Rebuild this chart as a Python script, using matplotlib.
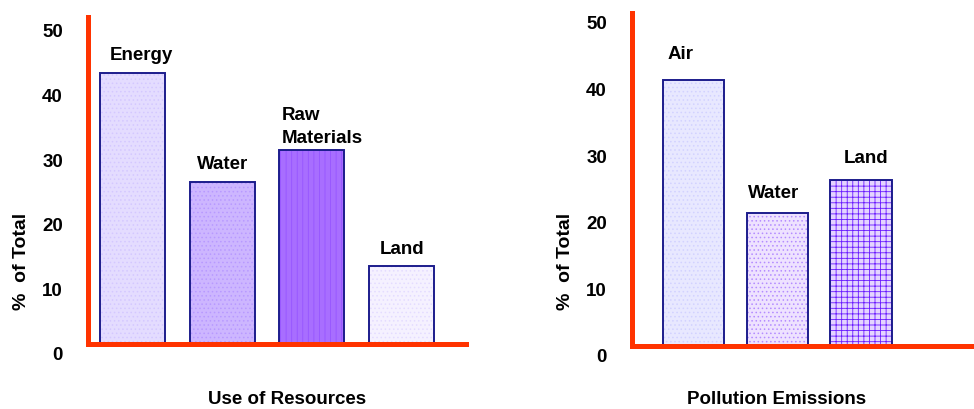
import matplotlib
matplotlib.use('Agg')
import matplotlib.pyplot as plt
import matplotlib.transforms as mtransforms

plt.rcParams['font.family'] = ['Liberation Sans', 'DejaVu Sans']
plt.rcParams['font.weight'] = 'bold'
plt.rcParams['hatch.linewidth'] = 0.6

# Use of resources (% of total)
res_labels = ['Energy', 'Water', 'Raw\nMaterials', 'Land']
res_values = [42, 25, 30, 12]
res_colors = ['#E4DCFF', '#CDB6FF', '#A86EFF', '#F5F1FF']
res_hatch = ['....', '....', '|||', '....']
res_hatch_colors = ['#D4C8FF', '#B89AFF', '#9655FF', '#E4DCFF']

# Pollution emissions (% of total)
pol_labels = ['Air', 'Water', 'Land']
pol_values = [40, 20, 25]
pol_colors = ['#E8E8FF', '#EEE2FF', '#E4D4FF']
pol_hatch = ['....', '....', '+++']
pol_hatch_colors = ['#D2D2FF', '#B48CFF', '#6A1AFF']

yticks = [0, 10, 20, 30, 40, 50]
red = '#FF3300'
navy = '#1C1C8C'
fs = 13.5

fig = plt.figure(figsize=(9.74, 4.10), dpi=100)


def panel(rect, labels, values, colors, hatches, hcolors, xlim, ylim, width,
          label_offsets, tick_pad, title, title_x, ylabel_x):
    ax = fig.add_axes(rect)
    x = list(range(len(values)))
    ax.bar(x, values, width=width, color=colors, hatch=hatches,
           edgecolor=hcolors, linewidth=0)
    ax.bar(x, values, width=width, fill=False, edgecolor=navy, linewidth=1.4)
    for xi, v, lab, (dx, dy, ha) in zip(x, values, labels, label_offsets):
        ax.annotate(lab, (xi, v), xytext=(dx, dy), textcoords='offset pixels',
                    ha=ha, va='bottom', fontsize=fs, fontweight='bold',
                    linespacing=1.45)
    ax.set_xlim(*xlim)
    ax.set_ylim(*ylim)
    ax.set_xticks([])
    ax.set_yticks(yticks)
    ax.set_yticklabels([str(t) for t in yticks], fontsize=fs, fontweight='bold')
    ax.tick_params(axis='y', length=0, pad=tick_pad)
    shift = mtransforms.ScaledTranslation(0, -9 / 100, fig.dpi_scale_trans)
    for t in ax.get_yticklabels():
        t.set_transform(t.get_transform() + shift)
    for s in ['top', 'right']:
        ax.spines[s].set_visible(False)
    for s in ['left', 'bottom']:
        ax.spines[s].set_color(red)
        ax.spines[s].set_linewidth(3.6)
        ax.spines[s].set_capstyle('projecting')
    fig.text(title_x / 974, 1 - 400 / 410, title, ha='center', va='center',
             fontsize=fs, fontweight='bold')
    fig.text(ylabel_x / 974, 1 - 261 / 410, '%  of Total', rotation=90,
             ha='center', va='center', fontsize=fs + 0.5, fontweight='bold')
    return ax


# left panel: zero at y=345px, 64.6 px per 10 units
panel([88 / 974, 65 / 410, 378 / 974, 327 / 410],
      res_labels, res_values, res_colors, res_hatch, res_hatch_colors,
      (-0.496, 3.718), (0, 50.6), 0.725,
      [(9, 10, 'center'), (0, 10, 'center'), (-30, 4, 'left'), (0, 9, 'center')],
      18, 'Use of Resources', 287, 22)

# right panel: zero at y=347px, 67.2 px per 10 units
panel([632 / 974, 63 / 410, 340 / 974, 333 / 410],
      pol_labels, pol_values, pol_colors, pol_hatch, pol_hatch_colors,
      (-0.734, 3.325), (0, 49.55), 0.73,
      [(-26, 18, 'left'), (-4, 12, 'center'), (5, 13, 'center')],
      18, 'Pollution Emissions', 777, 565)

fig.savefig('out.png', dpi=100)
